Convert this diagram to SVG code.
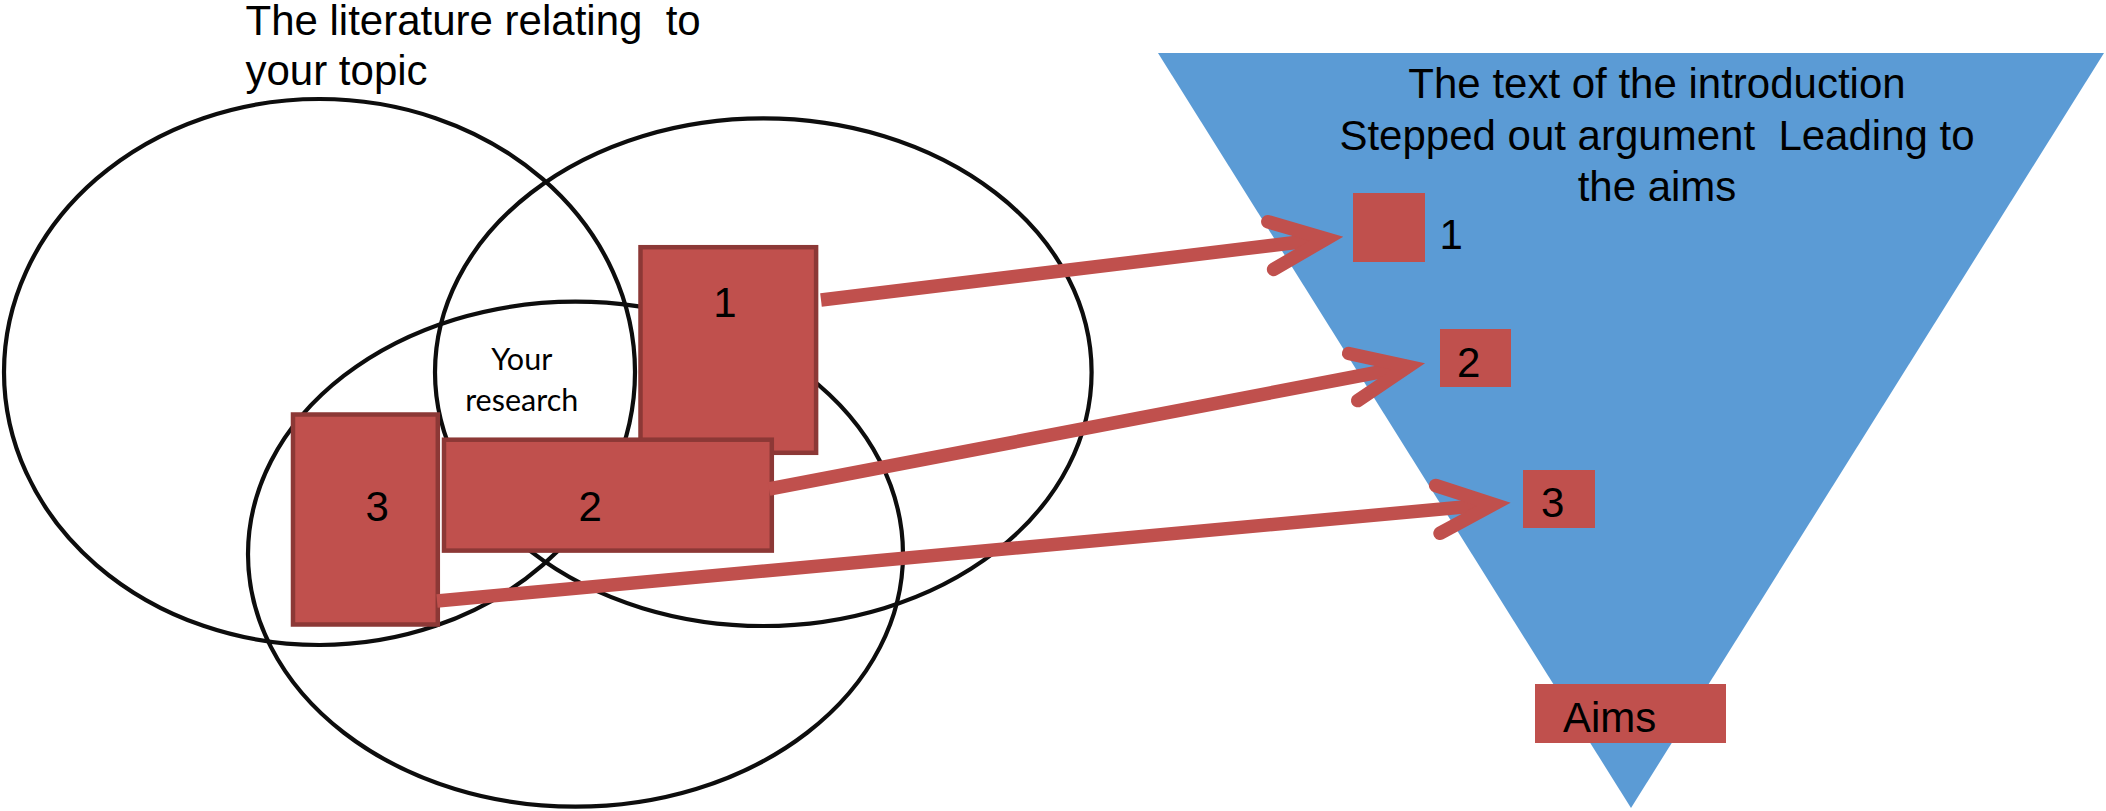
<svg xmlns="http://www.w3.org/2000/svg" width="2106" height="811" viewBox="0 0 2106 811">
<defs>
<style>
.ring{fill:none;stroke:#0d0d0d;stroke-width:4.2}
.box{fill:#C0504D;stroke:#8C3836;stroke-width:4.5}
.tbox{fill:#C0504D}
.t{font-family:"Liberation Sans",Arial,sans-serif;font-size:42px;fill:#000;white-space:pre}
.small{font-family:Lato,"Open Sans",sans-serif;font-size:30.5px;fill:#000}
.conn{fill:none;stroke:#C0504D;stroke-width:13.5;stroke-linecap:butt}
</style>
<marker id="vhead" markerUnits="userSpaceOnUse" orient="auto" viewBox="-80 -40 110 80" markerWidth="110" markerHeight="80" refX="0" refY="0" style="overflow:visible">
<path d="M-56,-24 L0,0 L-56,24" fill="none" stroke="#C0504D" stroke-width="13.5" stroke-linecap="round" stroke-linejoin="miter" stroke-miterlimit="10"/>
</marker>
</defs>
<rect width="2106" height="811" fill="#fff"/>

<g id="funnel">
<polygon points="1158,53 2104,53 1631,808" fill="#5B9BD5"/>
<text class="t" text-anchor="middle"><tspan x="1657" y="98">The text of the introduction</tspan><tspan x="1657" y="149.5">Stepped out argument  Leading to</tspan><tspan x="1657" y="201">the aims</tspan></text>
</g>

<g id="circle-left"><ellipse class="ring" cx="319.5" cy="372" rx="315.5" ry="273"/></g>
<g id="circle-right"><ellipse class="ring" cx="763.3" cy="372.2" rx="328.3" ry="253.8"/></g>
<g id="circle-bottom"><ellipse class="ring" cx="575.5" cy="554.2" rx="327.5" ry="252.5"/></g>

<g id="title"><text class="t"><tspan x="245.5" y="35">The literature relating  to</tspan><tspan x="245.5" y="85">your topic</tspan></text></g>

<g id="your-research"><text class="small" text-anchor="middle"><tspan x="521.7" y="370">Your</tspan><tspan x="521.7" y="410.7">research</tspan></text></g>

<g id="box-1"><rect class="box" x="640.5" y="247.2" width="175.6" height="205.6"/><text class="t" x="725" y="316.7" text-anchor="middle">1</text></g>
<g id="box-2"><rect class="box" x="444" y="439.7" width="327.8" height="110.9"/><text class="t" x="590.2" y="520.5" text-anchor="middle">2</text></g>
<g id="box-3"><rect class="box" x="293" y="414.5" width="144.8" height="210"/><text class="t" x="377.2" y="521" text-anchor="middle">3</text></g>

<g id="step-1"><rect class="tbox" x="1353" y="193" width="72" height="69"/><text class="t" x="1439.5" y="249.3">1</text></g>
<g id="step-2"><rect class="tbox" x="1440" y="329" width="71" height="58"/><text class="t" x="1457" y="377">2</text></g>
<g id="step-3"><rect class="tbox" x="1523" y="470" width="72" height="58"/><text class="t" x="1541" y="517">3</text></g>
<g id="aims"><rect class="tbox" x="1535" y="684" width="191" height="59"/><text class="t" x="1563" y="732.4">Aims</text></g>

<g id="connectors">
<path class="conn" d="M821,300 L1326.3,238.8" marker-end="url(#vhead)"/>
<path class="conn" d="M769,489 L1408.2,366.5" marker-end="url(#vhead)"/>
<path class="conn" d="M437,601 L1493.6,504.3" marker-end="url(#vhead)"/>
</g>
</svg>
